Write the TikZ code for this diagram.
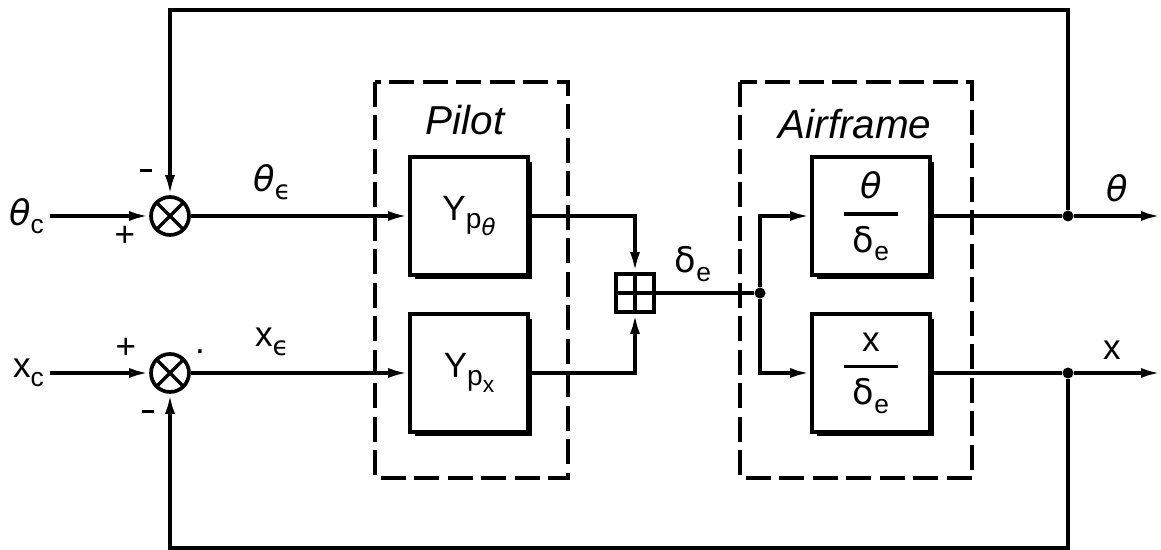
\documentclass[tikz,border=0pt]{standalone}
\usepackage{fontspec}
\setmainfont{Liberation Sans}
\newfontfamily\grk{DejaVu Sans}
\usetikzlibrary{arrows.meta}
\newcommand\lowtxt[2][15]{\raisebox{-0.45ex}{\fontsize{#1}{#1}\selectfont #2}}
\newcommand\frc[2]{$\displaystyle{\hbox{\makebox[1.1cm]{#1}}\above 2pt\hbox{#2}}$}
\newcommand\minussign{\rule[0.3em]{0.24cm}{0.065cm}}

\begin{document}
\begin{tikzpicture}[x=0.02cm,y=-0.02cm,
  font=\fontsize{20}{22}\selectfont,
  edge/.style={line width=2.1pt},
  sig/.style={edge,-{Latex[length=0.4cm,width=0.2cm]}},
  sum/.style={circle,draw,line width=2.1pt,minimum size=0.76cm,inner sep=0pt,
    path picture={\draw[line width=1.9pt]
      (path picture bounding box.north west) -- (path picture bounding box.south east)
      (path picture bounding box.north east) -- (path picture bounding box.south west);}},
  adder/.style={rectangle,draw,line width=2.1pt,minimum size=0.76cm,inner sep=0pt,
    path picture={\draw[line width=1.9pt]
      (path picture bounding box.north) -- (path picture bounding box.south)
      (path picture bounding box.west) -- (path picture bounding box.east);}},
  block/.style={draw,line width=2.1pt,fill=white,minimum width=2.36cm,minimum height=2.36cm,inner sep=0pt,
    preaction={fill=black,transform canvas={shift={(0.09cm,-0.09cm)}}}},
  grp/.style={line width=1.9pt,dash pattern=on 0.5cm off 0.17cm},
  joint/.style={circle,fill,inner sep=0pt,minimum size=0.22cm}
]
\useasboundingbox (0,0) rectangle (1161,550);
\coordinate (top) at (0,10);
\coordinate (bot) at (0,548);
\coordinate (thend) at (1161,216);
\coordinate (xend) at (1161,373);

% groups
\draw[grp] (375,82) rectangle (568,478);
\draw[grp] (740,82) rectangle (972,478);
\node (pl) at (465,120) {\fontsize{23}{26}\selectfont\itshape Pilot};
\node (af) at (855,124) {\fontsize{23}{26}\selectfont\itshape Airframe};

% inputs and summers
\node[anchor=east] (thc) at (50,216) {{\grk\itshape θ}\lowtxt{c}};
\node[anchor=east] (xc) at (50,373) {x\lowtxt{c}};
\node[sum] (s1) at (170,216) {};
\node[sum] (s2) at (170,373) {};
\node (m1) at (146,176) {\minussign};
\node (p1) at (125,236) {+};
\node (p2) at (126,348) {+};
\node (m2) at (148,417) {\minussign};
\node (pt) at (200,352) {.};

% blocks
\node[block] (ypth) at (469,216) {Y\lowtxt[16]{p\lowtxt[13]{\grk\itshape θ}}};
\node[block] (ypx) at (469,373) {Y\lowtxt[16]{p\lowtxt[13]{x}}};
\node[adder] (add) at (635,293) {};
\node[joint] (split) at (760,293) {};
\node[block] (afth) at (871,216) {\frc{{\grk\itshape θ}}{{\grk δ}\lowtxt{e}}};
\node[block] (afx) at (871,373) {\frc{x}{{\grk δ}\lowtxt{e}}};
\node[joint] (oth) at (1068,216) {};
\node[joint] (ox) at (1068,373) {};

% signal labels
\node (the) at (272,182) {{\grk\itshape θ}\lowtxt{\grk ϵ}};
\node (xe) at (272,342) {x\lowtxt{\grk ϵ}};
\node (de) at (693,264) {{\grk δ}\lowtxt{e}};
\node (tho) at (1117,188) {{\grk\itshape θ}};
\node (xo) at (1112,350) {x};

% connections
\draw[sig] (thc) -- (s1);
\draw[sig] (xc) -- (s2);
\draw[sig] (s1) -- (ypth);
\draw[sig] (s2) -- (ypx);
\draw[sig] (ypth) -| (add);
\draw[sig] (ypx) -| (add);
\draw[edge] (add) -- (split);
\draw[sig] (split) |- (afth);
\draw[sig] (split) |- (afx);
\draw[edge] (afth) -- (oth);
\draw[edge] (afx) -- (ox);
\draw[sig] (oth) -- (thend);
\draw[sig] (ox) -- (xend);
\draw[sig] (oth) -- (oth |- top) -| (s1);
\draw[sig] (ox) -- (ox |- bot) -| (s2);
\end{tikzpicture}
\end{document}
